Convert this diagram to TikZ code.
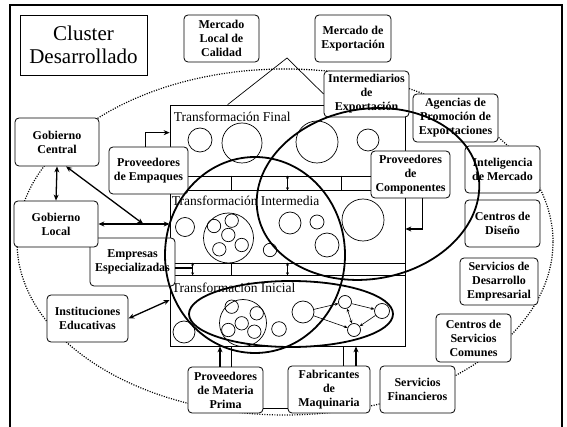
\documentclass[tikz,border=0pt]{standalone}
\usepackage{fontspec}
\setmainfont{Liberation Serif}
\usetikzlibrary{calc,arrows.meta}
\begin{document}
\begin{tikzpicture}[x=1pt,y=-1pt,
  box/.style={draw, fill=white, rounded corners=4pt, line width=0.8pt, align=center,
    inner sep=0pt, font=\bfseries\fontsize{12}{14}\selectfont},
  bx/.style n args={2}{box, minimum width=#1pt, minimum height=#2pt},
  tier/.style={draw, line width=0.7pt, inner sep=0pt},
  tierlabel/.style={anchor=west, inner sep=0pt, font=\fontsize{13.5}{15}\selectfont},
  cell/.style={draw, line width=0.7pt},
  cellnode/.style={draw, circle, line width=0.7pt, inner sep=0pt},
  ring/.style={draw, line width=1.8pt},
  boundary/.style={draw, line width=1.2pt, dash pattern=on 1.1pt off 1.4pt},
  arr/.style={line width=1.3pt, -{Stealth[length=6pt,width=5pt]}},
  darr/.style={line width=1.3pt, {Stealth[length=6pt,width=5pt]}-{Stealth[length=6pt,width=5pt]}},
  tick/.style={line width=0.7pt},
  tickarr/.style={line width=0.7pt, {Stealth[length=3pt,width=3pt]}-{Stealth[length=3pt,width=3pt]}},
  smallarr/.style={line width=0.6pt, -{Stealth[length=3.5pt,width=3pt]}},
  smalldarr/.style={line width=0.6pt, {Stealth[length=3.5pt,width=3pt]}-{Stealth[length=3.5pt,width=3pt]}},
]
\useasboundingbox (0,0) rectangle (567,427);

% page frame
\draw[line width=2pt] (10,427) -- (10,5) -- (562,5) -- (562,427);

% dotted cluster boundary
\draw[boundary] (285,242) ellipse [x radius=268, y radius=173];

% transformation tiers
\node[tier, minimum width=235pt, minimum height=71pt] (tfinal) at (287.5,140.5) {};
\node[tier, minimum width=235pt, minimum height=14pt] (band1) at (287.5,183) {};
\node[tier, minimum width=235pt, minimum height=73pt] (tinter) at (287.5,226.5) {};
\node[tier, minimum width=235pt, minimum height=12pt] (band2) at (287.5,269) {};
\node[tier, minimum width=235pt, minimum height=71pt] (tinic) at (287.5,310.5) {};

\node[tierlabel] (lfinal) at ($(tfinal.north west)+(4,12)$) {Transformación Final};
\node[tierlabel] (linter) at ($(tinter.north west)+(2,11)$) {Transformación Intermedia};
\node[tierlabel] (linic) at ($(tinic.north west)+(2,13)$) {Transformación Inicial};

% links inside the bands
\draw[tick] ($(band1.north west)+(62,0)$) -- ($(band1.south west)+(62,0)$);
\draw[tick] ($(band1.north west)+(172,0)$) -- ($(band1.south west)+(172,0)$);
\draw[tickarr] (band1.north) -- (band1.south);
\draw[tick] ($(band2.north west)+(62,0)$) -- ($(band2.south west)+(62,0)$);
\draw[tickarr] (band2.north) -- (band2.south);
\draw[tickarr] ($(band2.north west)+(23,0)$) -- ($(band2.south west)+(23,0)$);

% firms: final tier
\draw[cell] (200,140) circle [radius=12];
\draw[cell] (242,143) circle [radius=20];
\draw[cell] (317,142) circle [radius=21];
\draw[cell] (368,140) circle [radius=11];

% firms: intermediate tier
\draw[cell] (185,227) circle [radius=9.5];
\draw[cell] (228.5,238) circle [radius=25];
\foreach \p in {(214,226),(231.7,220.7),(228.3,235),(219.3,249.3),(241.7,245)}
  \draw[cell] \p circle [radius=6.7];
\draw[cell] (270,250) circle [radius=6.7];
\draw[cell] (290,223) circle [radius=11];
\draw[cell] (317,222) circle [radius=7];
\draw[cell] (327,245) circle [radius=12];
\draw[cell] (363,220) circle [radius=21];

% firms: initial tier
\draw[cell] (184,332) circle [radius=11];
\draw[cell] (243,323) circle [radius=23.5];
\foreach \p in {(231.7,306.7),(256.7,313.3),(241.7,323.3),(228.3,330),(254.3,331.7)}
  \draw[cell] \p circle [radius=6.7];
\draw[cell] (279,329) circle [radius=7.3];
\node[cellnode, minimum size=22pt] (ci5) at (303,312) {};
\node[cellnode, minimum size=13pt] (n1) at (345,302) {};
\node[cellnode, minimum size=15pt] (n2) at (382,311) {};
\node[cellnode, minimum size=13pt] (n3) at (354,330) {};
\draw[smallarr] (ci5) -- (n1);
\draw[smallarr] (n1) -- (n2);
\draw[smalldarr] (n1) -- (n3);
\draw[smallarr] (n2) -- (n3);
\draw[smallarr] (ci5) -- (n3);

% actors
\node[draw, line width=0.6pt, minimum width=127pt, minimum height=60pt, align=center,
  inner sep=0pt, font=\fontsize{21}{23}\selectfont] (cluster) at (83.5,45) {Cluster\\Desarrollado};
\node[bx={75}{47}] (mlocal) at (221.5,38.5) {Mercado\\Local de\\Calidad};
\node[bx={76}{47}] (mexp) at (353,38.5) {Mercado de\\Exportación};
\node[bx={85}{46}] (inter) at (366.5,94) {Intermediarios\\de\\Exportación};
\node[bx={85}{48}] (agencias) at (455.5,118) {Agencias de\\Promoción de\\Exportaciones};
\node[bx={75}{47}] (intel) at (502.5,169.5) {Inteligencia\\de Mercado};
\node[bx={75}{47}] (diseno) at (502.5,223.5) {Centros de\\Diseño};
\node[bx={78}{47}] (sde) at (499,281.5) {Servicios de\\Desarrollo\\Empresarial};
\node[bx={75}{48}] (csc) at (473.5,338) {Centros de\\Servicios\\Comunes};
\node[bx={75}{47}] (sfin) at (417.5,389.5) {Servicios\\Financieros};
\node[bx={82}{47}] (fab) at (329,389.5) {Fabricantes\\de\\Maquinaria};
\node[bx={75}{46}] (mprima) at (225.5,390) {Proveedores\\de Materia\\Prima};
\node[bx={81}{47}] (inst) at (87.5,318.5) {Instituciones\\Educativas};
\node[bx={85}{48}] (empresas) at (132.5,262) {Empresas\\Especializadas};
\node[bx={84}{46}] (glocal) at (56,224) {Gobierno\\Local};
\node[bx={84}{48}] (gcentral) at (57,142) {Gobierno\\Central};
\node[bx={79}{47}] (empaques) at (148.5,170.5) {Proveedores\\de Empaques};
\node[bx={79}{47}] (componentes) at (410.5,174.5) {Proveedores\\de\\Componentes};

% market roof
\coordinate (apex) at (287,58);
\path (tfinal.north west) ++(58,0) coordinate (roofl);
\draw[tick] (roofl) -- (apex) -- (inter.west);

% overlapping sub-clusters
\draw[ring] (255,255) ellipse [x radius=90, y radius=98];
\draw[ring, rotate around={10:(368,194)}] (368,194) ellipse [x radius=112, y radius=85];
\draw[ring] (291,314) ellipse [x radius=102, y radius=33];

% connectors
\draw[darr] (gcentral.south) -- (glocal.north);
\coordinate (jct) at ($(glocal.east)!0.63!(glocal.east -| tinter.west)$);
\path (gcentral.south) ++(9,0) coordinate (gc1);
\draw[darr] (gc1) -- (jct);
\draw[darr] (glocal.east) -- (glocal.east -| tinter.west);
\path (empaques.north) ++(-3,0) coordinate (em1);
\path (tfinal.north west) ++(0,28) coordinate (tf1);
\draw[arr] (em1) |- (tf1);
\path (componentes.south) ++(12,0) coordinate (co1);
\path (tinter.east) ++(0,2.5) coordinate (ti1);
\draw[arr] (co1) |- (ti1);
\path (empresas.east) ++(0,6) coordinate (es1);
\draw[tick, line width=1.2pt] (es1) -- ++(18,0);
\path (tinic.west) ++(0,-10.5) coordinate (tc1);
\draw[darr] (inst.east) -- (tc1);
\path (mprima.north) ++(-5.5,0) coordinate (mp1);
\path (mprima.north) ++(5.5,0) coordinate (mp2);
\draw[arr] (mp1) -- (mp1 |- tinic.south);
\draw[tick] (mp2) -- (mp2 |- tinic.south);
\path (fab.north) ++(14,0) coordinate (fb1);
\path (fab.north) ++(27,0) coordinate (fb2);
\draw[tick] (fb1) -- (fb1 |- tinic.south);
\draw[arr] (fb2) -- (fb2 |- tinic.south);
\path (mprima.south east) ++(0,-5) coordinate (mb1);
\draw[tick] (mb1) -- (mb1 -| fab.west);
\end{tikzpicture}
\end{document}
